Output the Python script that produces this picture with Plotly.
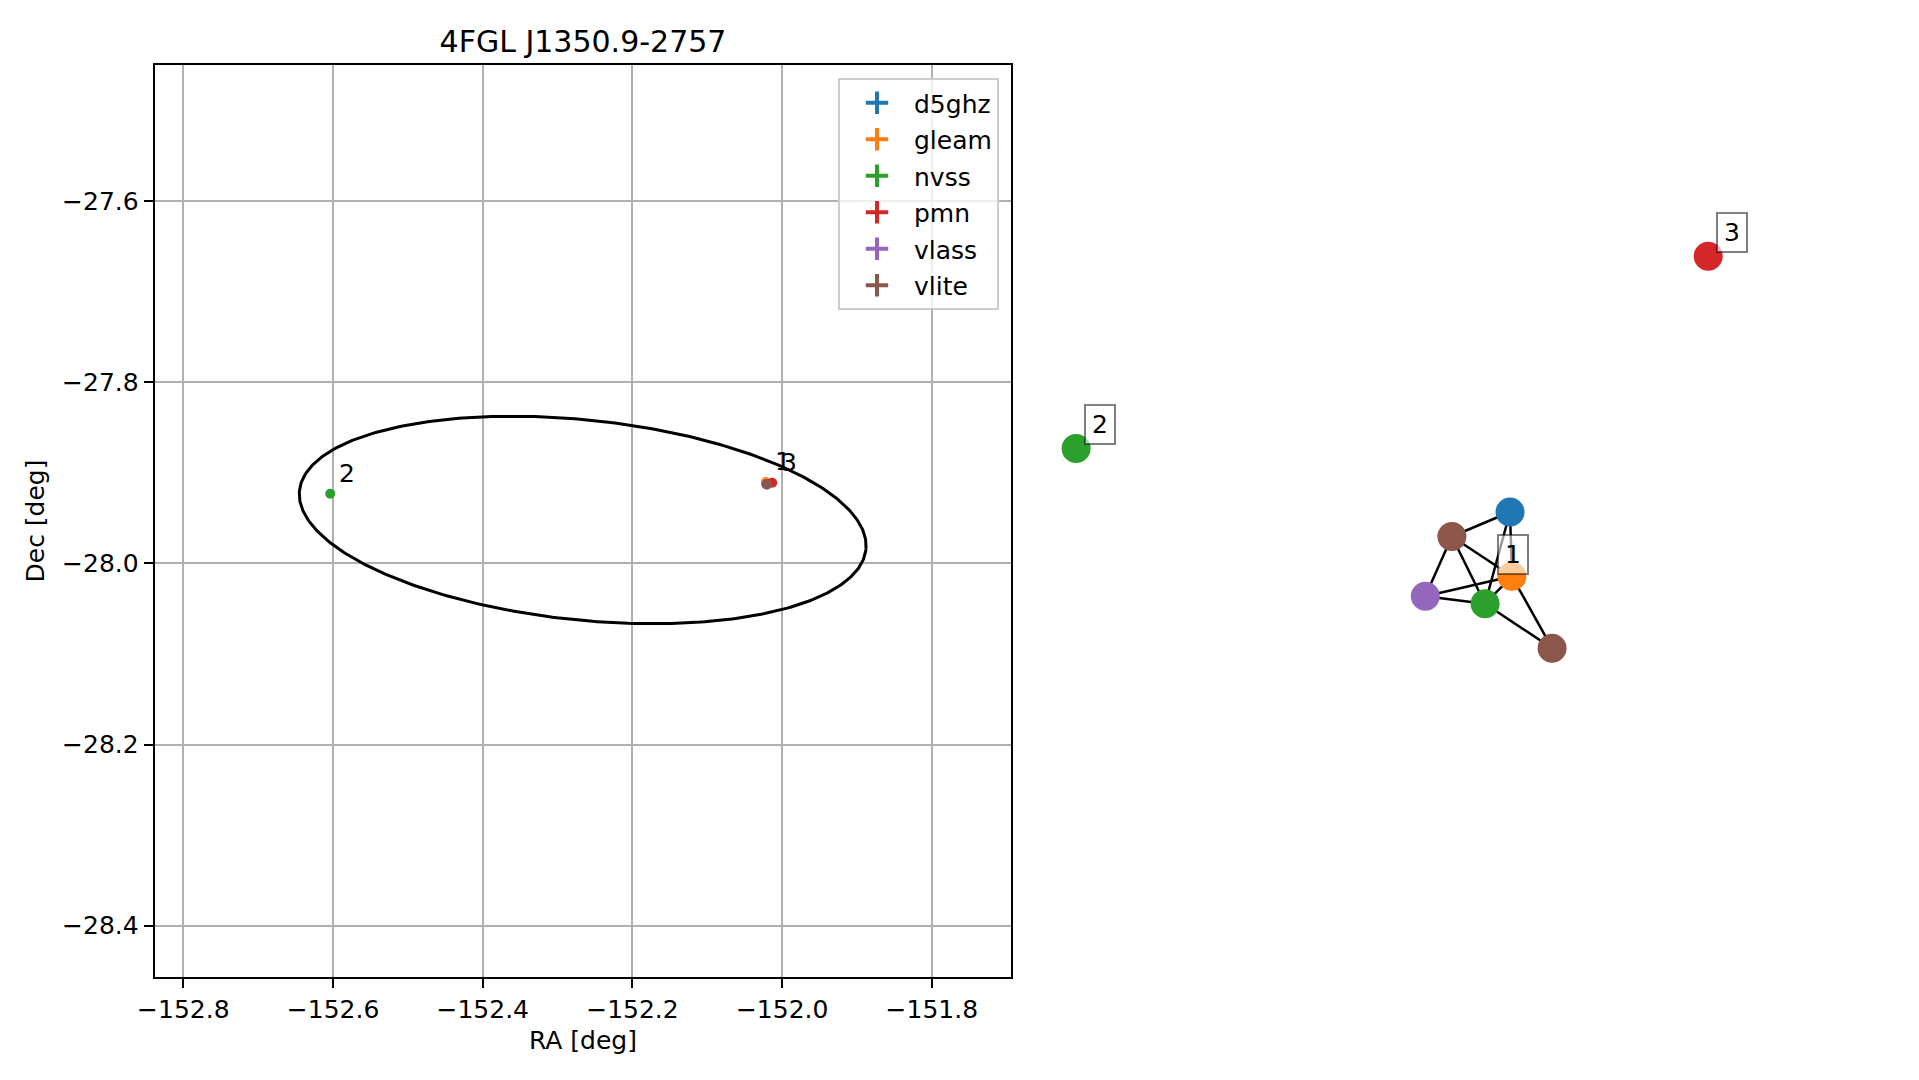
import numpy as np
import plotly.graph_objects as go

FONT = "DejaVu Sans"

# ---------------- data: left panel (sky positions) ----------------
catalogs = ["d5ghz", "gleam", "nvss", "pmn", "vlass", "vlite"]
colors = ["#1f77b4", "#ff7f0e", "#2ca02c", "#d62728", "#9467bd", "#8c564b"]

ra_d5ghz = [-152.0205]
dec_d5ghz = [-27.9122]
ra_gleam = [-152.0217]
dec_gleam = [-27.9100]
ra_nvss = [-152.6038, -152.0208]
dec_nvss = [-27.9229, -27.9125]
ra_pmn = [-152.0133]
dec_pmn = [-27.9107]
ra_vlass = [-152.0210]
dec_vlass = [-27.9126]
ra_vlite = [-152.0208, -152.0200]
dec_vlite = [-27.9125, -27.9128]

err_d5ghz = [0.0003]
err_gleam = [0.0010]
err_nvss = [0.0004, 0.0004]
err_pmn = [0.0020]
err_vlass = [0.0001]
err_vlite = [0.0005, 0.0005]

# source labels (id, ra, dec)
src_ids = ["2", "1", "3"]
src_ra = [-152.6038, -152.0217, -152.0133]
src_dec = [-27.9229, -27.9100, -27.9107]

# 4FGL uncertainty ellipse parameters
ell_ra = -152.2665
ell_dec = -27.9519
ell_a = 0.3798
ell_b = 0.1107
ell_angle_deg = -4.7

title_text = "4FGL J1350.9-2757"
x_ticks = [-152.8, -152.6, -152.4, -152.2, -152.0, -151.8]
y_ticks = [-27.6, -27.8, -28.0, -28.2, -28.4]
x_range = [-152.8383, -151.694]
y_range = [-28.4569, -27.4492]

# ---------------- data: right panel (association graph) ----------------
node_catalog = ["nvss", "pmn", "d5ghz", "vlite", "gleam", "vlass", "nvss", "vlite"]
node_x = [-1.000, 1.000, 0.373, 0.189, 0.379, 0.105, 0.294, 0.506]
node_y = [0.019, 1.000, -0.305, -0.430, -0.633, -0.735, -0.773, -1.000]
edge_a = [2, 2, 2, 3, 3, 3, 5, 5, 6, 6, 4]
edge_b = [3, 4, 6, 5, 6, 4, 4, 6, 4, 7, 7]
node_label_idx = [4, 0, 1]
node_label_txt = ["1", "2", "3"]
node_label_dx = [1, 24, 24]
node_label_dy = [22, 24, 24]

series = {
    "d5ghz": (ra_d5ghz, dec_d5ghz, err_d5ghz),
    "gleam": (ra_gleam, dec_gleam, err_gleam),
    "nvss": (ra_nvss, dec_nvss, err_nvss),
    "pmn": (ra_pmn, dec_pmn, err_pmn),
    "vlass": (ra_vlass, dec_vlass, err_vlass),
    "vlite": (ra_vlite, dec_vlite, err_vlite),
}
color_of = dict(zip(catalogs, colors))

# page geometry (the page body has an 8px margin)
W, H, OFF = 1903, 1064, 8


def fx(px):
    return (px - OFF) / W


def fy(py):
    return 1 - (py - OFF) / H


fig = go.Figure()

# ellipse
t = np.linspace(0, 2 * np.pi, 400)
phi = np.deg2rad(ell_angle_deg)
ex = ell_ra + ell_a * np.cos(t) * np.cos(phi) - ell_b * np.sin(t) * np.sin(phi)
ey = ell_dec + ell_a * np.cos(t) * np.sin(phi) + ell_b * np.sin(t) * np.cos(phi)
fig.add_trace(go.Scatter(x=ex, y=ey, mode="lines", line=dict(color="black", width=3),
                         showlegend=False, hoverinfo="skip", xaxis="x", yaxis="y"))

for cat in catalogs:
    ra, dec, err = series[cat]
    c = color_of[cat]
    fig.add_trace(go.Scatter(
        x=ra, y=dec, mode="markers", name=cat, legendgroup=cat, showlegend=False,
        marker=dict(color=c, size=10),
        error_x=dict(type="data", array=err, color=c, thickness=2, width=0),
        error_y=dict(type="data", array=err, color=c, thickness=2, width=0),
        cliponaxis=False, xaxis="x", yaxis="y"))
    # legend entry (errorbar style cross)
    fig.add_trace(go.Scatter(
        x=[None], y=[None], mode="markers", name=cat, legendgroup=cat, showlegend=True,
        marker=dict(color=c, size=16, symbol="cross-thin", line=dict(color=c, width=4)),
        xaxis="x", yaxis="y"))

annotations = []
for sid, ra, dec in zip(src_ids, src_ra, src_dec):
    annotations.append(dict(x=ra, y=dec, xref="x", yref="y", text=sid, showarrow=False,
                            xanchor="left", yanchor="bottom", xshift=7, yshift=4,
                            font=dict(family=FONT, size=25, color="black")))

# graph edges
ex2, ey2 = [], []
for a, b in zip(edge_a, edge_b):
    ex2 += [node_x[a], node_x[b], None]
    ey2 += [node_y[a], node_y[b], None]
fig.add_trace(go.Scatter(x=ex2, y=ey2, mode="lines", line=dict(color="black", width=2.5),
                         showlegend=False, hoverinfo="skip", xaxis="x2", yaxis="y2",
                         cliponaxis=False))
fig.add_trace(go.Scatter(x=node_x, y=node_y, mode="markers",
                         marker=dict(color=[color_of[c] for c in node_catalog], size=29,
                                     line=dict(width=0)),
                         showlegend=False, xaxis="x2", yaxis="y2", cliponaxis=False))

for idx, txt, dx, dy in zip(node_label_idx, node_label_txt, node_label_dx, node_label_dy):
    annotations.append(dict(x=node_x[idx], y=node_y[idx], xref="x2", yref="y2", text=txt,
                            showarrow=False, xanchor="center", yanchor="middle",
                            xshift=dx, yshift=dy, width=22, height=31, borderpad=3,
                            bgcolor="rgba(255,255,255,0.6)", bordercolor="rgba(0,0,0,0.5)",
                            borderwidth=2, font=dict(family=FONT, size=25, color="black")))

axis_common = dict(showline=True, linecolor="black", linewidth=2, mirror=True,
                   ticks="outside", ticklen=9, tickwidth=2, tickcolor="black",
                   showgrid=True, gridcolor="#b0b0b0", gridwidth=2, zeroline=False,
                   automargin=False,
                   tickfont=dict(family=FONT, size=25, color="black"), tickformat=".1f")

fig.update_layout(
    width=W, height=H,
    margin=dict(l=0, r=0, t=0, b=0, autoexpand=False),
    paper_bgcolor="white", plot_bgcolor="white",
    font=dict(family=FONT, size=25, color="black"),
    title=dict(text=title_text, x=fx(583), xanchor="center", xref="container",
               y=fy(51.7), yanchor="bottom", yref="container",
               font=dict(family=FONT, size=30, color="black")),
    xaxis=dict(domain=[fx(154.7), fx(1011.2)], range=x_range, tickvals=x_ticks,
               title=dict(text="RA [deg]", standoff=8, font=dict(family=FONT, size=25)),
               **axis_common),
    yaxis=dict(domain=[fy(977), fy(65)], range=y_range, tickvals=y_ticks,
               title=dict(text="Dec [deg]", standoff=10, font=dict(family=FONT, size=25)),
               **axis_common),
    xaxis2=dict(domain=[fx(1044.5), fx(1739.8)], range=[-1.1, 1.1], visible=False),
    yaxis2=dict(domain=[fy(667.8), fy(236.6)], range=[-1.1, 1.1], visible=False),
    legend=dict(x=fx(999), xanchor="right", y=fy(78), yanchor="top",
                bgcolor="rgba(255,255,255,0.8)", bordercolor="#cccccc", borderwidth=2,
                font=dict(family=FONT, size=25, color="black"), itemwidth=64,
                tracegroupgap=1),
    annotations=annotations,
    showlegend=True,
)

fig.write_html("out.html")
